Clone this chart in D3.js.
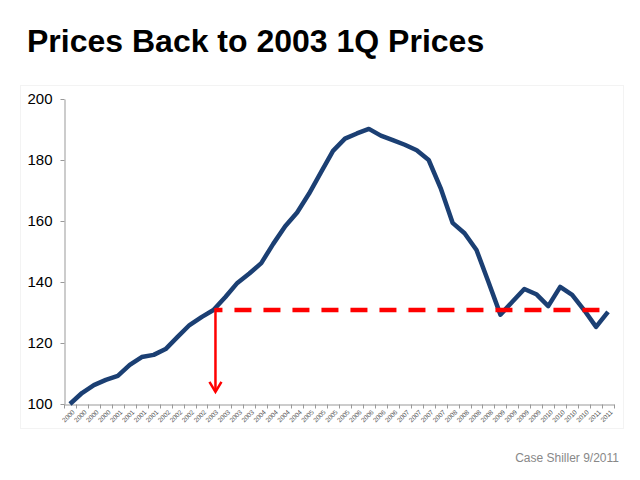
<!DOCTYPE html>
<html>
<head>
<meta charset="utf-8">
<script src="https://cdn.jsdelivr.net/npm/d3@7"></script>
<style>
  body { margin: 0; background: #fff; }
  svg { display: block; font-family: Arial, "Liberation Sans", sans-serif; }
</style>
</head>
<body>
<div id="chart"></div>
<script>
// Quarterly index, 2000 1Q .. 2011 2Q
const years = ["2000", "2001", "2002", "2003", "2004", "2005", "2006", "2007", "2008", "2009", "2010", "2011"];
const quarterLabels = years.flatMap(y => y === "2011" ? [y, y] : [y, y, y, y]);
const prices = [
    100.0, 103.6, 106.2, 107.9, 109.2, 112.8, 115.4, 116.1,
    118.0, 122.0, 125.9, 128.5, 130.8, 135.1, 139.7, 142.8,
    146.2, 152.5, 158.3, 162.8, 169.0, 176.0, 183.0, 187.0,
    188.7, 190.2, 188.0, 186.5, 185.0, 183.2, 180.0, 170.8,
    159.4, 156.0, 150.5, 140.0, 129.3, 133.5, 137.7, 136.0,
    132.1, 138.4, 135.8, 130.8, 125.3, 130.2
];
const yTicks = [100, 120, 140, 160, 180, 200];
const refIndex = 12;       // 2003 1Q
const refEndIndex = 44;    // dashed line runs to here
const arrowBottom = 104;   // arrow tip value

const width = 640, height = 480;
const svg = d3.select("#chart").append("svg")
    .attr("width", width)
    .attr("height", height);

// faint chart frame
svg.append("rect")
    .attr("x", 20.5).attr("y", 85.5)
    .attr("width", 603).attr("height", 343)
    .attr("fill", "none")
    .attr("stroke", "#f3f3f3");

// title
svg.append("text")
    .attr("x", 27).attr("y", 52)
    .style("font-size", "32px")
    .style("font-weight", "bold")
    .attr("fill", "#000")
    .text("Prices Back to 2003 1Q Prices");

const x = d3.scaleBand()
    .domain(d3.range(prices.length))
    .range([64, 614])
    .padding(0);
const cx = i => x(i) + x.bandwidth() / 2;

const y = d3.scaleLinear()
    .domain([100, 200])
    .range([404, 99]);

// y axis
const yAxis = svg.append("g")
    .attr("transform", "translate(64.5,0)")
    .call(d3.axisLeft(y).tickValues(yTicks).tickSize(4).tickSizeOuter(0).tickPadding(8));
yAxis.select(".domain").attr("stroke", "#999");
yAxis.selectAll(".tick line").attr("stroke", "#999");
yAxis.selectAll("text")
    .style("font-size", "15px")
    .attr("fill", "#000");

// x axis (ticks sit between categories)
const xAxis = svg.append("g")
    .attr("transform", "translate(0,404.5)")
    .call(d3.axisBottom(x).tickSize(0).tickSizeOuter(0).tickFormat(i => quarterLabels[i]));
xAxis.select(".domain").attr("stroke", "#999");
xAxis.selectAll("text")
    .style("font-size", "6.5px")
    .attr("fill", "#555")
    .attr("text-anchor", "end")
    .attr("dx", 0).attr("dy", 0)
    .attr("transform", "translate(3,6) rotate(-45)");
xAxis.selectAll(".edge")
    .data(d3.range(prices.length + 1))
    .enter().append("line")
    .attr("class", "edge")
    .attr("x1", i => Math.round(x(0) + i * x.bandwidth()) + 0.5)
    .attr("x2", i => Math.round(x(0) + i * x.bandwidth()) + 0.5)
    .attr("y1", 0).attr("y2", 4)
    .attr("stroke", "#999");

// price line
const line = d3.line()
    .x((d, i) => cx(i))
    .y(d => y(d));

svg.append("path")
    .datum(prices)
    .attr("fill", "none")
    .attr("stroke", "#1b3f73")
    .attr("stroke-width", 4.5)
    .attr("stroke-linejoin", "round")
    .attr("d", line);

// red reference line at 2003 1Q level
const refY = y(prices[refIndex]);
svg.append("line")
    .attr("x1", cx(refIndex) + 2)
    .attr("x2", x(refEndIndex) + x.bandwidth())
    .attr("y1", refY).attr("y2", refY)
    .attr("stroke", "#ff0000")
    .attr("stroke-width", 4.5)
    .attr("stroke-dasharray", "17,12")
    .attr("stroke-dashoffset", 10);

// down arrow
const ax = cx(refIndex) + 2;
const tipY = y(arrowBottom);
svg.append("line")
    .attr("x1", ax).attr("x2", ax)
    .attr("y1", refY - 2).attr("y2", tipY)
    .attr("stroke", "#ff0000")
    .attr("stroke-width", 2.5);
svg.append("path")
    .attr("d", `M${ax - 6},${tipY - 10} L${ax},${tipY} L${ax + 6},${tipY - 10}`)
    .attr("fill", "none")
    .attr("stroke", "#ff0000")
    .attr("stroke-width", 2.5);

// source note
svg.append("text")
    .attr("x", 619).attr("y", 462)
    .attr("text-anchor", "end")
    .style("font-size", "12px")
    .attr("fill", "#888")
    .text("Case Shiller 9/2011");
</script>
</body>
</html>
